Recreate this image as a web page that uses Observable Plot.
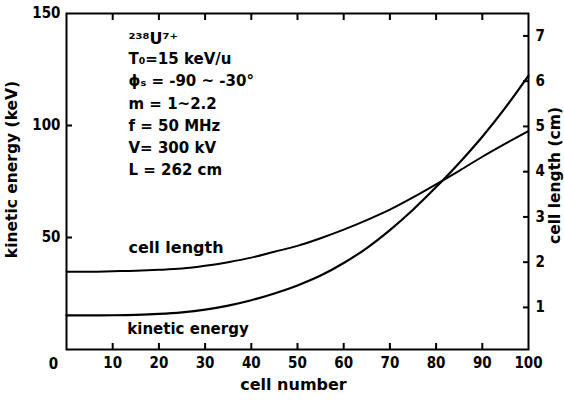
<!DOCTYPE html>
<html><head><meta charset="utf-8">
<script src="https://cdn.jsdelivr.net/npm/d3@7"></script>
<script src="https://cdn.jsdelivr.net/npm/@observablehq/plot@0.6"></script>
<style>body{margin:0;background:#fff}</style>
</head><body><div id="chart"></div>
<script>
const cellNumber = [0,5,10,15,20,25,30,35,40,45,50,55,60,65,70,75,80,85,90,95,100];
const kineticEnergy = [15.2,15.2,15.3,15.5,15.9,16.6,17.8,19.6,22.0,25.0,28.6,33.0,38.6,45.3,53.3,62.4,72.5,83.3,95.0,108.0,122.3];
const cellLength = [1.79,1.79,1.80,1.81,1.83,1.86,1.92,2.00,2.10,2.23,2.36,2.53,2.72,2.93,3.16,3.43,3.72,4.02,4.33,4.62,4.90];
const xTicks = [10,20,30,40,50,60,70,80,90,100];
const energyTicks = [50,100,150];
const lengthTicks = [1,2,3,4,5,6,7];
const headerLine = "²³⁸U⁷⁺";
const parameterLines = ["T₀=15 keV/u","ϕₛ = -90 ~ -30°","m = 1~2.2","f = 50 MHz","V= 300 kV","L = 262 cm"];

// right axis (cm) mapped onto the left (keV) scale
const cmToKeV = cm => (cm - 0.07) * 20.2;
const rows = cellNumber.map((n, i) => ({n, ke: kineticEnergy[i], cl: cmToKeV(cellLength[i])}));
const numFont = "DejaVu Sans Condensed";
const wordFont = "DejaVu Sans";
const blank = () => "";
const T = 6;

const chart = Plot.plot({
  width: 564, height: 400,
  marginLeft: 66, marginRight: 36, marginTop: 13, marginBottom: 51,
  style: {fontFamily: numFont, fontWeight: "bold", fontSize: "15px", color: "#000", background: "#fff"},
  x: {domain: [0, 100]},
  y: {domain: [0, 150]},
  marks: [
    // tick labels
    Plot.axisX(xTicks, {anchor: "bottom", tickSize: 0, tickPadding: 8, label: null}),
    Plot.axisY(energyTicks, {anchor: "left", tickSize: 0, tickPadding: 6, label: null}),
    Plot.axisY(lengthTicks.map(cmToKeV), {anchor: "right", tickSize: 0, tickPadding: 7, label: null,
      tickFormat: (d, i) => String(lengthTicks[i])}),
    // inward tick marks
    Plot.axisX(xTicks.filter(d => d < 100), {anchor: "bottom", tickSize: T, insetBottom: T, tickFormat: blank, label: null, strokeWidth: 2}),
    Plot.axisX(xTicks.filter(d => d < 100), {anchor: "top", tickSize: T, insetTop: T, tickFormat: blank, label: null, strokeWidth: 2}),
    Plot.axisY(energyTicks.filter(d => d < 150), {anchor: "left", tickSize: T, insetLeft: T, tickFormat: blank, label: null, strokeWidth: 2}),
    Plot.axisY(lengthTicks.map(cmToKeV), {anchor: "right", tickSize: T, insetRight: T, tickFormat: blank, label: null, strokeWidth: 2}),
    Plot.text(["0"], {frameAnchor: "bottom-left", textAnchor: "middle", lineAnchor: "middle", dx: -13, dy: 15, fontSize: 15}),
    Plot.line(rows, {x: "n", y: "ke", stroke: "#000", strokeWidth: 2.2, curve: "monotone-x"}),
    Plot.line(rows, {x: "n", y: "cl", stroke: "#000", strokeWidth: 2, curve: "monotone-x"}),
    Plot.text([rows[5]], {x: "n", y: "cl", text: () => "cell length", dx: -6, dy: -21, fontSize: 16, fontFamily: wordFont}),
    Plot.text([rows[5]], {x: "n", y: "ke", text: () => "kinetic energy", dx: 6, dy: 17, fontSize: 15, fontFamily: wordFont}),
    Plot.text([headerLine], {frameAnchor: "top-left", dx: 62, dy: 19, lineAnchor: "top", textAnchor: "start", fontSize: 16, fontFamily: wordFont}),
    ...parameterLines.map((t, i) => Plot.text([t], {frameAnchor: "top-left", dx: 62, dy: 40 + i * 22.2, lineAnchor: "top", textAnchor: "start", fontSize: 15, fontFamily: wordFont})),
    Plot.text(["kinetic energy (keV)"], {frameAnchor: "left", textAnchor: "middle", rotate: -90, dx: -54, dy: -12, fontSize: 15.5, fontFamily: wordFont}),
    Plot.text(["cell length (cm)"], {frameAnchor: "right", textAnchor: "middle", rotate: -90, dx: 27, dy: -6, fontSize: 15.5, fontFamily: wordFont}),
    Plot.text(["cell number"], {frameAnchor: "bottom", textAnchor: "middle", dx: -4, dy: 40, fontSize: 16, fontFamily: wordFont}),
    Plot.frame({stroke: "#000", strokeWidth: 2})
  ]
});
document.getElementById("chart").appendChild(chart);
</script>
</body></html>
